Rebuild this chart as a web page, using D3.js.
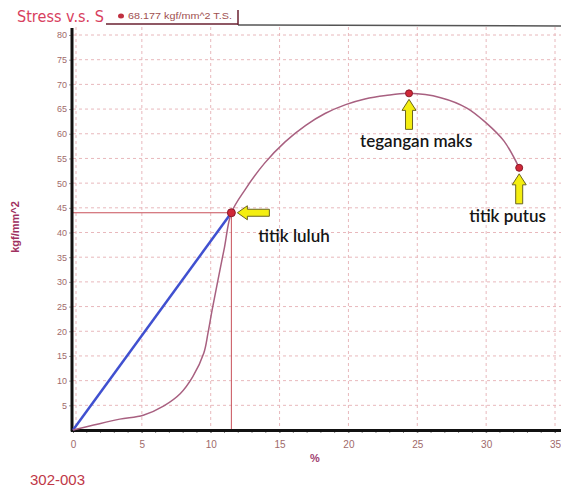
<!DOCTYPE html>
<html><head><meta charset="utf-8">
<script src="https://cdn.jsdelivr.net/npm/d3@7/dist/d3.min.js"></script>
<style>body{margin:0;background:#fff}svg{display:block}</style>
</head><body>
<script>
const curveX = [0, 1.5, 3.4, 5.1, 6.6, 7.8, 8.7, 9.5, 9.8, 10.1, 10.5, 11.0, 11.5, 12.5, 13.9, 15.4, 16.9, 18.3, 19.8, 21.2, 22.7, 24.4, 26.7, 28.6, 30.0, 31.3, 32.4];
const curveY = [0, 1.0, 2.2, 3.0, 4.9, 7.4, 10.8, 15.6, 19.6, 24.3, 30, 37, 44, 48.7, 54.0, 58.35, 61.7, 64.1, 65.9, 67.05, 67.75, 68.18, 67.3, 65.2, 62.2, 58.5, 53.1];
const elasticX = [0, 11.5];
const elasticY = [0, 44];
const pointNames = ["titik luluh", "tegangan maks", "titik putus"];
const pointX = [11.5, 24.4, 32.4];
const pointY = [44, 68.18, 53.1];
const xTicks = [0, 5, 10, 15, 20, 25, 30, 35];
const yTicks = [5, 10, 15, 20, 25, 30, 35, 40, 45, 50, 55, 60, 65, 70, 75, 80];
const titleText = "Stress v.s. S";
const legendText = "68.177 kgf/mm^2 T.S.";
const yLabel = "kgf/mm^2";
const xLabel = "%";
const footText = "302-003";

const W = 561, H = 490;
const svg = d3.select("body").append("svg").attr("width", W).attr("height", H);
const x = d3.scaleLinear().domain([0, 35]).range([73, 555]);
const y = d3.scaleLinear().domain([0, 80]).range([430, 35]);

// grid
const grid = svg.append("g").attr("stroke", "#e8b8bc").attr("stroke-width", 1).attr("stroke-dasharray", "3,3");
grid.selectAll("line.h").data(yTicks).join("line")
  .attr("x1", x(0)).attr("x2", W).attr("y1", d => y(d)).attr("y2", d => y(d));
grid.selectAll("line.v").data(xTicks).join("line")
  .attr("x1", d => x(d) + (d === 0 ? 3 : 0)).attr("x2", d => x(d) + (d === 0 ? 3 : 0))
  .attr("y1", 27).attr("y2", y(0));

// reference lines at yield
svg.append("line").attr("x1", x(0)).attr("x2", x(pointX[0])).attr("y1", y(pointY[0])).attr("y2", y(pointY[0]))
  .attr("stroke", "#c8505a").attr("stroke-width", 1);
svg.append("line").attr("x1", x(pointX[0])).attr("x2", x(pointX[0])).attr("y1", y(pointY[0])).attr("y2", y(0))
  .attr("stroke", "#c8505a").attr("stroke-width", 1);

// axes
const xAxis = d3.axisBottom(x).tickValues(xTicks).tickSize(3).tickPadding(8).tickFormat(d3.format("d"));
const gx = svg.append("g").attr("transform", `translate(0,${y(0)})`).call(xAxis);
gx.select(".domain").remove();
gx.selectAll("text").attr("fill", "#a06a6a").style("font-family", "Liberation Sans, Arial, sans-serif").style("font-size", "10px");
gx.selectAll("line").attr("stroke", "#777");
svg.append("g").selectAll("line").data(d3.range(1, 36)).join("line")
  .attr("x1", d => x(d)).attr("x2", d => x(d)).attr("y1", y(0)).attr("y2", y(0) + 3)
  .attr("stroke", "#888").attr("stroke-width", 1);

const yAxis = d3.axisLeft(y).tickValues(yTicks).tickSize(4).tickPadding(2).tickFormat(d3.format("d"));
const gy = svg.append("g").attr("transform", `translate(${x(0)},0)`).call(yAxis);
gy.select(".domain").remove();
gy.selectAll("text").attr("fill", "#a06a6a").style("font-family", "Liberation Sans, Arial, sans-serif").style("font-size", "9px");
gy.selectAll("line").attr("stroke", "#999");

svg.append("line").attr("x1", x(0) - 1).attr("x2", x(0) - 1).attr("y1", 28).attr("y2", y(0) + 1.5)
  .attr("stroke", "#111").attr("stroke-width", 3);
svg.append("line").attr("x1", x(0) - 2).attr("x2", W).attr("y1", y(0) + 0.5).attr("y2", y(0) + 0.5)
  .attr("stroke", "#111").attr("stroke-width", 3);
svg.append("line").attr("x1", 238).attr("x2", W).attr("y1", 25).attr("y2", 26)
  .attr("stroke", "#555").attr("stroke-width", 1.5);

// elastic line
svg.append("path").datum(elasticX.map((v, i) => [v, elasticY[i]]))
  .attr("d", d3.line().x(d => x(d[0])).y(d => y(d[1])))
  .attr("fill", "none").attr("stroke", "#4050d0").attr("stroke-width", 2.5);

// curve
svg.append("path").datum(curveX.map((v, i) => [v, curveY[i]]))
  .attr("d", d3.line().x(d => x(d[0])).y(d => y(d[1])).curve(d3.curveCatmullRom.alpha(0.5)))
  .attr("fill", "none").attr("stroke", "#a86080").attr("stroke-width", 1.5);

// points
svg.append("g").selectAll("circle").data(pointX).join("circle")
  .attr("cx", d => x(d)).attr("cy", (d, i) => y(pointY[i])).attr("r", (d, i) => i === 0 ? 4 : 3.5)
  .attr("fill", "#d02838").attr("stroke", "#8a1a2a").attr("stroke-width", 1);

// arrows
function arrowLeft(px, py) {
  const tip = px + 6;
  return `M${tip},${py} L${tip + 10},${py - 7} L${tip + 10},${py - 3.5} L${tip + 32},${py - 3.5} L${tip + 32},${py + 3.5} L${tip + 10},${py + 3.5} L${tip + 10},${py + 7} Z`;
}
function arrowUp(px, py) {
  const tip = py + 6;
  return `M${px},${tip} L${px + 7},${tip + 11} L${px + 3.5},${tip + 11} L${px + 3.5},${tip + 30} L${px - 3.5},${tip + 30} L${px - 3.5},${tip + 11} L${px - 7},${tip + 11} Z`;
}
const ag = svg.append("g").attr("fill", "#f4ee10").attr("stroke", "#6a6420").attr("stroke-width", 1);
ag.append("path").attr("d", arrowLeft(x(pointX[0]), y(pointY[0])));
ag.append("path").attr("d", arrowUp(x(pointX[1]), y(pointY[1])));
ag.append("path").attr("d", arrowUp(x(pointX[2]), y(pointY[2])));

// annotation labels
const labOff = [[27, 29], [-49, 54], [-50, 54]];
svg.append("g").selectAll("text").data(pointNames).join("text")
  .attr("x", (d, i) => x(pointX[i]) + labOff[i][0])
  .attr("y", (d, i) => y(pointY[i]) + labOff[i][1])
  .text(d => d)
  .attr("fill", "#151515").style("font-family", "Lato, 'Open Sans', sans-serif").style("font-size", "17px")
  .style("font-weight", "600");

// title and legend
svg.append("text").attr("x", 17).attr("y", 22).text(titleText)
  .attr("fill", "#d8405e").style("font-family", "DejaVu Sans, sans-serif").style("font-size", "15px")
  .attr("textLength", 87).attr("lengthAdjust", "spacingAndGlyphs");
svg.append("line").attr("x1", 106).attr("x2", 238).attr("y1", 24).attr("y2", 24).attr("stroke", "#6a2030").attr("stroke-width", 1.5);
svg.append("line").attr("x1", 238).attr("x2", 238).attr("y1", 10).attr("y2", 25).attr("stroke", "#6a2030").attr("stroke-width", 1.5);
svg.append("ellipse").attr("cx", 121).attr("cy", 16).attr("rx", 3).attr("ry", 2.5).attr("fill", "#c03040");
svg.append("text").attr("x", 128).attr("y", 19).text(legendText)
  .attr("fill", "#a05050").style("font-family", "Liberation Sans, Arial, sans-serif").style("font-size", "8.5px")
  .attr("textLength", 104).attr("lengthAdjust", "spacingAndGlyphs");

// axis labels
svg.append("text").attr("transform", "translate(19,227) rotate(-90)").attr("text-anchor", "middle")
  .text(yLabel).attr("fill", "#a03060").style("font-family", "Liberation Sans, Arial, sans-serif")
  .style("font-size", "11px").style("font-weight", "bold");
svg.append("text").attr("x", 315).attr("y", 462).attr("text-anchor", "middle")
  .text(xLabel).attr("fill", "#a04070").style("font-family", "Liberation Sans, Arial, sans-serif")
  .style("font-size", "11px").style("font-weight", "bold");
svg.append("text").attr("x", 30).attr("y", 485)
  .text(footText).attr("fill", "#c03848").style("font-family", "Liberation Sans, Arial, sans-serif")
  .style("font-size", "15px");
</script>
</body></html>
